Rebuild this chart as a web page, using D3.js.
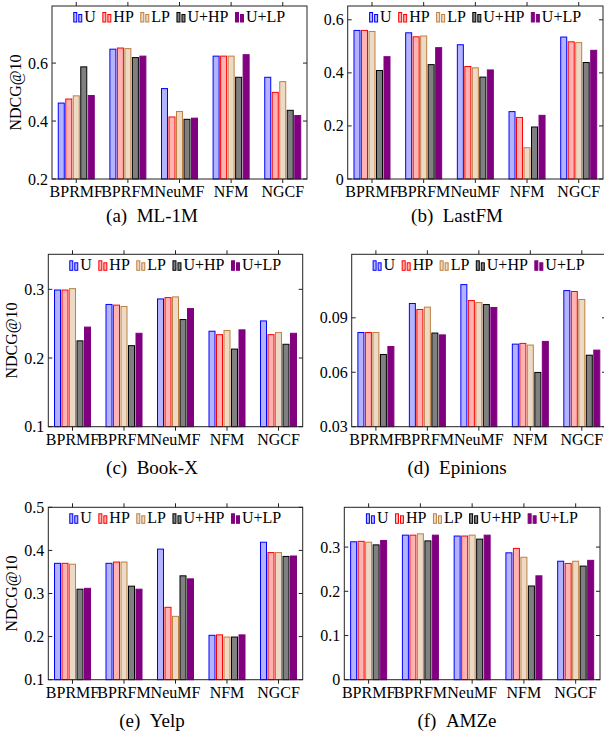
<!DOCTYPE html>
<html>
<head>
<meta charset="utf-8">
<script src="https://cdn.jsdelivr.net/npm/d3@7"></script>
<style>
  body { margin: 0; background: #fff; }
  text { font-family: "Liberation Serif", serif; fill: #000; }
</style>
</head>
<body>
<svg width="604" height="742"></svg>
<script>
const methods = ['BPRMF', 'BPRFM', 'NeuMF', 'NFM', 'NGCF'];
const variants = ['U', 'HP', 'LP', 'U+HP', 'U+LP'];

// NDCG@10, one row per method, columns follow variants
const ml1m = [
  [0.462, 0.476, 0.487, 0.587, 0.488],
  [0.648, 0.652, 0.650, 0.619, 0.624],
  [0.512, 0.414, 0.433, 0.406, 0.410],
  [0.624, 0.624, 0.624, 0.551, 0.629],
  [0.551, 0.499, 0.536, 0.437, 0.419]
];
const lastfm = [
  [0.560, 0.560, 0.556, 0.409, 0.461],
  [0.551, 0.536, 0.539, 0.431, 0.495],
  [0.506, 0.424, 0.419, 0.384, 0.411],
  [0.254, 0.232, 0.118, 0.196, 0.240],
  [0.535, 0.517, 0.514, 0.439, 0.485]
];
const bookx = [
  [0.299, 0.299, 0.301, 0.225, 0.245],
  [0.278, 0.277, 0.275, 0.218, 0.236],
  [0.286, 0.288, 0.289, 0.256, 0.272],
  [0.239, 0.234, 0.240, 0.213, 0.241],
  [0.254, 0.234, 0.237, 0.220, 0.236]
];
const epinions = [
  [0.0819, 0.0819, 0.0819, 0.0698, 0.0742],
  [0.0979, 0.0946, 0.0959, 0.0816, 0.0806],
  [0.1083, 0.0995, 0.0984, 0.0973, 0.0957],
  [0.0755, 0.0759, 0.0750, 0.0599, 0.0770],
  [0.1050, 0.1045, 0.1001, 0.0694, 0.0722]
];
const yelp = [
  [0.370, 0.370, 0.368, 0.310, 0.312],
  [0.370, 0.373, 0.373, 0.317, 0.310],
  [0.403, 0.268, 0.247, 0.341, 0.334],
  [0.203, 0.204, 0.199, 0.199, 0.204],
  [0.419, 0.395, 0.395, 0.386, 0.387]
];
const amze = [
  [0.312, 0.313, 0.311, 0.305, 0.315],
  [0.327, 0.327, 0.330, 0.314, 0.327],
  [0.325, 0.325, 0.327, 0.318, 0.327],
  [0.287, 0.297, 0.277, 0.212, 0.235],
  [0.268, 0.263, 0.268, 0.257, 0.270]
];

const captions = ['(a)', '(b)', '(c)', '(d)', '(e)', '(f)'];
const datasets = ['ML-1M', 'LastFM', 'Book-X', 'Epinions', 'Yelp', 'AMZe'];
const yDomains = [[0.2, 0.797], [0, 0.652], [0.1, 0.351], [0.03, 0.125], [0.1, 0.5], [0, 0.39]];
const yTicks = [
  [0.2, 0.4, 0.6],
  [0, 0.2, 0.4, 0.6],
  [0.1, 0.2, 0.3],
  [0.03, 0.06, 0.09],
  [0.1, 0.2, 0.3, 0.4, 0.5],
  [0, 0.1, 0.2, 0.3]
];
const values = [ml1m, lastfm, bookx, epinions, yelp, amze];

// plot frames [left, right, top, bottom]
const frames = [
  [52, 307, 6, 179],
  [347.7, 603, 6, 179],
  [48.3, 302.7, 254.3, 426.7],
  [351.7, 606, 254.3, 426.7],
  [48.3, 302.7, 507.3, 679.7],
  [344.3, 600, 507.3, 679.7]
];
const captionY = [222, 222, 474, 474, 727, 727];

const styles = {
  'U':    { stroke: '#0000ff', fill: '#b3b3ff' },
  'HP':   { stroke: '#ff0000', fill: '#ffb3b3' },
  'LP':   { stroke: '#bf8040', fill: '#ecd9c6' },
  'U+HP': { stroke: '#000000', fill: '#808080' },
  'U+LP': { stroke: '#800080', fill: '#800080' }
};

const svg = d3.select('svg');

const inner = d3.scaleBand().domain(variants).range([-18.75, 18.75]).paddingInner(0.2).paddingOuter(0.1);

values.forEach((data, i) => {
  const [L, R, T, B] = frames[i];
  const g = svg.append('g');
  const x = d3.scalePoint().domain(methods).range([L, R]).padding(0.47);
  const y = d3.scaleLinear().domain(yDomains[i]).range([B, T]);

  // bars
  methods.forEach((m, mi) => {
    g.selectAll(null)
      .data(variants)
      .enter()
      .append('rect')
      .attr('x', v => x(m) + inner(v))
      .attr('width', inner.bandwidth())
      .attr('y', (v, vi) => y(data[mi][vi]))
      .attr('height', (v, vi) => B - y(data[mi][vi]))
      .attr('fill', v => styles[v].fill)
      .attr('stroke', v => styles[v].stroke)
      .attr('stroke-width', 1);
  });

  // frame
  g.append('rect')
    .attr('x', L).attr('y', T)
    .attr('width', R - L).attr('height', B - T)
    .attr('fill', 'none').attr('stroke', '#222').attr('stroke-width', 1);

  // y ticks (inside, both sides)
  yTicks[i].forEach(t => {
    const yy = y(t);
    g.append('line').attr('x1', L).attr('x2', L + 4).attr('y1', yy).attr('y2', yy).attr('stroke', '#222');
    g.append('line').attr('x1', R - 4).attr('x2', R).attr('y1', yy).attr('y2', yy).attr('stroke', '#222');
    g.append('text')
      .attr('x', L - 4).attr('y', yy + 5.5)
      .attr('text-anchor', 'end')
      .style('font-size', '16px')
      .text(String(t));
  });

  // x ticks (outside, top and bottom)
  methods.forEach(m => {
    g.append('line').attr('x1', x(m)).attr('x2', x(m)).attr('y1', T - 4).attr('y2', T).attr('stroke', '#222');
    g.append('line').attr('x1', x(m)).attr('x2', x(m)).attr('y1', B).attr('y2', B + 4).attr('stroke', '#222');
    g.append('text')
      .attr('x', x(m)).attr('y', B + 18)
      .attr('text-anchor', 'middle')
      .style('font-size', '16px')
      .text(m);
  });

  // y label only on left column
  if (i % 2 === 0) {
    g.append('text')
      .attr('transform', `translate(${L - 31},${(T + B) / 2}) rotate(-90)`)
      .attr('text-anchor', 'middle')
      .style('font-size', '16px')
      .text('NDCG@10');
  }

  // legend
  const lg = g.append('g');
  let cx = 0;
  const base = T + 16;
  variants.forEach(v => {
    const st = styles[v];
    lg.append('rect').attr('x', cx).attr('y', base - 9.5).attr('width', 3).attr('height', 9.5)
      .attr('fill', st.fill).attr('stroke', st.stroke).attr('stroke-width', 1);
    lg.append('rect').attr('x', cx + 5).attr('y', base - 7.5).attr('width', 3).attr('height', 7.5)
      .attr('fill', st.fill).attr('stroke', st.stroke).attr('stroke-width', 1);
    const t = lg.append('text').attr('x', cx + 10.5).attr('y', base)
      .style('font-size', '16px').text(v);
    cx += 10.5 + t.node().getComputedTextLength() + 7;
  });
  const lw = cx - 7;
  lg.attr('transform', `translate(${(L + R) / 2 - lw / 2},0)`);

  // caption
  svg.append('text')
    .attr('x', i % 2 === 0 ? 152 : 457)
    .attr('y', captionY[i])
    .attr('text-anchor', 'middle')
    .style('font-size', '19px')
    .text(captions[i] + '\u2002' + datasets[i]);
});
</script>
</body>
</html>
